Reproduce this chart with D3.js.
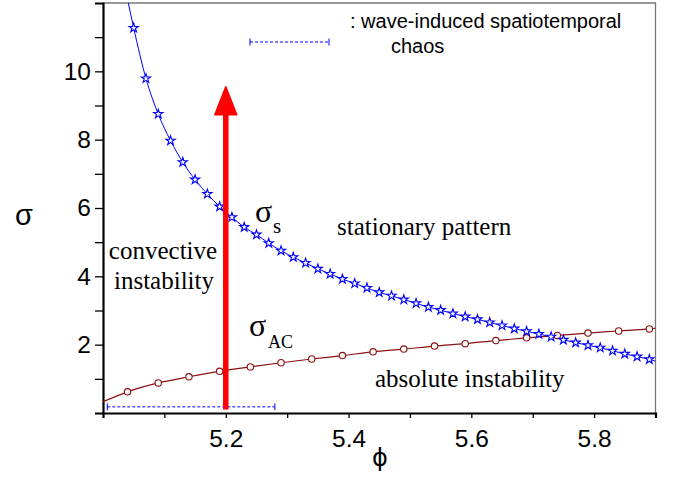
<!DOCTYPE html>
<html>
<head>
<meta charset="utf-8">
<script src="https://cdn.jsdelivr.net/npm/d3@7"></script>
<style>
  body { margin: 0; background: #fff; }
  svg { display: block; }
</style>
</head>
<body>
<svg width="674" height="481"></svg>
<script>
// sigma_s branch (blue stars)
var phiS = [5.05, 5.07, 5.09, 5.11, 5.13, 5.15, 5.17, 5.19, 5.21, 5.23, 5.25, 5.27, 5.29, 5.31, 5.33,
            5.35, 5.37, 5.39, 5.41, 5.43, 5.45, 5.47, 5.49, 5.51, 5.53, 5.55, 5.57, 5.59, 5.61, 5.63,
            5.65, 5.67, 5.69, 5.71, 5.73, 5.75, 5.77, 5.79, 5.81, 5.83, 5.85, 5.87, 5.89];
var sigmaS = [11.27, 9.79, 8.75, 7.97, 7.34, 6.83, 6.41, 6.04, 5.73, 5.44, 5.22, 4.97, 4.75, 4.56, 4.39,
              4.22, 4.07, 3.92, 3.79, 3.66, 3.53, 3.43, 3.32, 3.21, 3.10, 3.01, 2.91, 2.82, 2.74, 2.65,
              2.56, 2.47, 2.39, 2.31, 2.23, 2.14, 2.06, 1.98, 1.91, 1.82, 1.73, 1.65, 1.57];
// line ends beyond the markers
var phiSEnds = [5.04, 5.9];
var sigmaSEnds = [12.1, 1.52];

// sigma_AC branch (brown circles)
var phiAC = [5.04, 5.09, 5.14, 5.19, 5.24, 5.29, 5.34, 5.39, 5.44, 5.49, 5.54, 5.59, 5.64, 5.69,
             5.74, 5.79, 5.84, 5.89];
var sigmaAC = [0.62, 0.88, 1.06, 1.22, 1.35, 1.47, 1.58, 1.68, 1.79, 1.87, 1.96, 2.03, 2.12, 2.20,
               2.27, 2.34, 2.40, 2.46];
var phiACEnds = [5.0, 5.9];
var sigmaACEnds = [0.33, 2.48];

// wave-induced chaos range and the red arrow
var chaosPhi = [5.007, 5.28];
var chaosSigma = 0.18;
var arrowPhi = 5.2;
var arrowSigma = [0.1, 9.55];

var xTicks = [5.2, 5.4, 5.6, 5.8];
var xMinor = [5.1, 5.3, 5.5, 5.7, 5.9];
var yTicks = [2, 4, 6, 8, 10];
var yMinor = [1, 3, 5, 7, 9, 11];

var margin = {left: 103, top: 3, right: 18.5, bottom: 68};
var width = 674 - margin.left - margin.right;
var height = 481 - margin.top - margin.bottom;

var svg = d3.select("svg");
var g = svg.append("g").attr("transform", "translate(" + margin.left + "," + margin.top + ")");

var x = d3.scaleLinear().domain([5.0, 5.9]).range([0, width]);
var y = d3.scaleLinear().domain([0, 12]).range([height, 0]);

svg.append("defs").append("clipPath").attr("id", "clip")
    .append("rect").attr("width", width).attr("height", height);

var sans = "Liberation Sans, Arial, sans-serif";
var serif = "Liberation Serif, Times New Roman, serif";

// top and right frame
g.append("path")
    .attr("d", "M0,0H" + width + "V" + height)
    .attr("fill", "none").attr("stroke", "#777").attr("stroke-width", 1.3);

// axes
g.append("g").attr("transform", "translate(0," + height + ")")
    .call(d3.axisBottom(x).tickValues(xTicks).tickSize(5).tickPadding(12).tickFormat(d3.format(".1f")));
g.append("g").attr("transform", "translate(0," + height + ")")
    .call(d3.axisBottom(x).tickValues(xMinor).tickSize(5).tickFormat(""))
    .select(".domain").remove();
g.append("g")
    .call(d3.axisLeft(y).tickValues(yTicks).tickSize(8).tickPadding(4));
g.append("g")
    .call(d3.axisLeft(y).tickValues(yMinor).tickSize(8).tickFormat(""))
    .select(".domain").remove();

g.selectAll(".domain").attr("stroke-width", 2.2);
g.selectAll(".tick line").attr("stroke-width", 1.3);
g.selectAll(".tick text")
    .attr("font-family", sans)
    .attr("font-size", 24.5).attr("fill", "#000");

// axis titles
svg.append("text").attr("x", 24).attr("y", 225).attr("text-anchor", "middle")
    .attr("font-family", sans).attr("font-size", 29).text("σ");
svg.append("text").attr("x", 380).attr("y", 466).attr("text-anchor", "middle")
    .attr("font-family", "DejaVu Sans, sans-serif").attr("font-size", 24).text("ϕ");

var plot = g.append("g").attr("clip-path", "url(#clip)");

// sigma_AC line
var acLine = [[phiACEnds[0], sigmaACEnds[0]]]
    .concat(phiAC.map((p, i) => [p, sigmaAC[i]]))
    .concat([[phiACEnds[1], sigmaACEnds[1]]]);
plot.append("path").datum(acLine)
    .attr("d", d3.line().x(d => x(d[0])).y(d => y(d[1])).curve(d3.curveMonotoneX))
    .attr("fill", "none").attr("stroke", "#8b1010").attr("stroke-width", 1.2);

// sigma_s line
var sLine = [[phiSEnds[0], sigmaSEnds[0]]]
    .concat(phiS.map((p, i) => [p, sigmaS[i]]))
    .concat([[phiSEnds[1], sigmaSEnds[1]]]);
plot.append("path").datum(sLine)
    .attr("d", d3.line().x(d => x(d[0])).y(d => y(d[1])).curve(d3.curveMonotoneX))
    .attr("fill", "none").attr("stroke", "#0000ff").attr("stroke-width", 1);

// markers
plot.selectAll(".ac").data(phiAC).enter().append("circle")
    .attr("cx", d => x(d)).attr("cy", (d, i) => y(sigmaAC[i])).attr("r", 3.2)
    .attr("fill", "#fff").attr("stroke", "#8b1010").attr("stroke-width", 1.1);

var star = d3.symbol().type(d3.symbolStar).size(26);
plot.selectAll(".st").data(phiS).enter().append("path")
    .attr("d", star)
    .attr("transform", (d, i) => "translate(" + x(d) + "," + y(sigmaS[i]) + ")")
    .attr("fill", "#fff").attr("stroke", "#0000ff").attr("stroke-width", 1.1);

// chaos range (dashed, with end caps)
function rangeBar(sel, x1, x2, yy) {
  sel.append("line").attr("x1", x1).attr("x2", x2).attr("y1", yy).attr("y2", yy)
      .attr("stroke", "#0000ff").attr("stroke-width", 1).attr("stroke-dasharray", "3,2");
  [x1, x2].forEach(function(xx) {
    sel.append("line").attr("x1", xx).attr("x2", xx).attr("y1", yy - 3.5).attr("y2", yy + 3.5)
        .attr("stroke", "#0000ff").attr("stroke-width", 1);
  });
}
rangeBar(g, x(chaosPhi[0]), x(chaosPhi[1]), y(chaosSigma));

// legend
rangeBar(svg, 250, 329, 42);
svg.append("text").attr("x", 350).attr("y", 28)
    .attr("font-family", sans).attr("font-size", 20)
    .text(": wave-induced spatiotemporal");
svg.append("text").attr("x", 391).attr("y", 53)
    .attr("font-family", sans).attr("font-size", 20)
    .text("chaos");

// red arrow
var ax = x(arrowPhi), yBot = y(arrowSigma[0]), yTip = y(arrowSigma[1]);
g.append("line").attr("x1", ax).attr("x2", ax).attr("y1", yBot).attr("y2", yTip + 24)
    .attr("stroke", "#ff0000").attr("stroke-width", 5.5);
g.append("path")
    .attr("d", "M" + ax + "," + yTip + "L" + (ax + 11) + "," + (yTip + 28) + "L" + (ax - 11) + "," + (yTip + 28) + "Z")
    .attr("fill", "#ff0000").attr("stroke", "#ff0000").attr("stroke-linejoin", "round").attr("stroke-width", 1.5);

// region labels
function label(tx, ty, txt, size, anchor) {
  return svg.append("text").attr("x", tx).attr("y", ty).attr("font-family", serif)
      .attr("font-size", size).attr("text-anchor", anchor || "start").text(txt);
}
label(163, 259, "convective", 25, "middle");
label(164, 289, "instability", 25, "middle");
label(337, 235, "stationary pattern", 25);
label(375, 387, "absolute instability", 25);

label(255, 222, "σ", 32);
label(273, 233, "s", 21);
label(249, 336, "σ", 32);
label(268, 348, "AC", 18);
</script>
</body>
</html>
